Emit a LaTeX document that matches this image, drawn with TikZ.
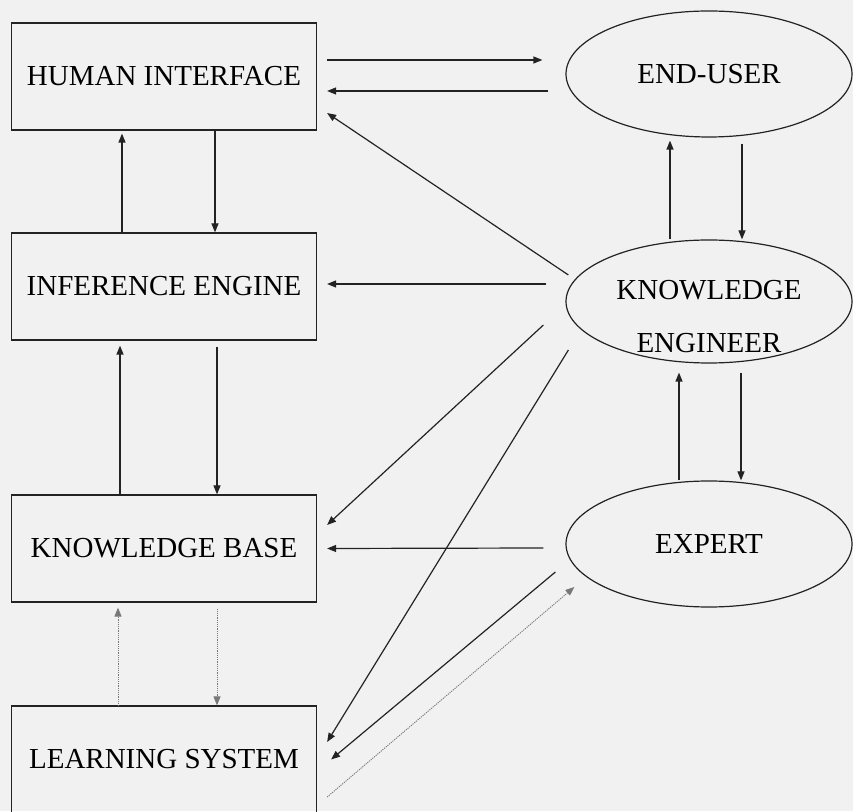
\documentclass[tikz,border=0pt]{standalone}
\usepackage{fontspec}
\setmainfont{Liberation Serif}
\usepackage{tikz}
\usetikzlibrary{arrows.meta,shapes.geometric}
\definecolor{ink}{RGB}{35,35,35}
\definecolor{paper}{RGB}{241,241,241}
\definecolor{dotgrey}{RGB}{120,120,120}
\tikzset{
  unit/.style={draw=ink,line width=1.2pt,rectangle,minimum width=305pt,
               minimum height=107pt,inner sep=0pt,font=\fontsize{29}{35}\selectfont},
  actor/.style={draw=ink,line width=1.2pt,ellipse,minimum width=286pt,
                minimum height=126pt,inner sep=0pt,font=\fontsize{29}{35}\selectfont},
  actortxt/.style={align=center,inner sep=0pt,font=\fontsize{29}{53}\selectfont},
  flow/.style={-{Triangle[length=9pt,width=7pt]},line width=1.2pt,draw=ink},
  flowd/.style={flow,densely dotted,draw=dotgrey,line width=0.9pt},
}

\begin{document}
\begin{tikzpicture}[x=1pt,y=1pt]
  \fill[paper] (0,0) rectangle (853,811);
  \useasboundingbox (0,0) rectangle (853,811);
  \clip (0,0) rectangle (853,811);

  % left column
  \node[unit] (hi) at (164,734.5) {HUMAN INTERFACE};
  \node[unit] (ie) at (164,524.5) {INFERENCE ENGINE};
  \node[unit] (kb) at (164,262.5) {KNOWLEDGE BASE};
  \node[unit] (ls) at (164,51.5)  {LEARNING SYSTEM};

  % right column
  \node[actor] (eu) at (709,737) {END-USER};
  \node[actor,minimum height=123pt] (ke) at (709,509.5) {};
  \node[actortxt] (ketxt) at ([yshift=-15]ke.center) {KNOWLEDGE\\ENGINEER};
  \node[actor] (ex) at (709,267) {EXPERT};

  % interface <-> end-user
  \draw[flow] ([shift={(10,16.5)}]hi.east) -- ([shift={(-23,14)}]eu.west);
  \draw[flow] ([shift={(-17,-17)}]eu.west) -- ([shift={(10,-14.5)}]hi.east);

  % left column links
  \draw[flow] ([xshift=-42]ie.north) -- ([xshift=-42,yshift=-3]hi.south);
  \draw[flow] ([xshift=51]hi.south) -- ([xshift=51]ie.north);
  \draw[flow] ([xshift=-44]kb.north) -- ([xshift=-44,yshift=-5]ie.south);
  \draw[flow] ([xshift=53,yshift=-6]ie.south) -- ([xshift=53]kb.north);
  \draw[flowd] ([xshift=-46,yshift=-1]ls.north) -- ([xshift=-46,yshift=-5]kb.south);
  \draw[flowd] ([xshift=53,yshift=-6]kb.south) -- ([xshift=53]ls.north);

  % right column links
  \draw[flow] ([xshift=-39]ke.north) -- ([xshift=-39,yshift=-3]eu.south);
  \draw[flow] ([xshift=33,yshift=-6]eu.south) -- ([xshift=33]ke.north);
  \draw[flow] ([xshift=-30]ex.north) -- ([xshift=-30,yshift=-9]ke.south);
  \draw[flow] ([xshift=32,yshift=-9]ke.south) -- ([xshift=32]ex.north);

  % knowledge engineer fan-out
  \draw[flow] ([shift={(3,26.5)}]ke.west) -- ([shift={(10,-36.5)}]hi.east);
  \draw[flow] ([shift={(-19,17.5)}]ke.west) -- ([shift={(10,2.5)}]ie.east);
  \draw[flow] ([shift={(-22,-23.5)}]ke.west) -- ([shift={(10,23.5)}]kb.east);
  \draw[flow] ([shift={(3,-48.5)}]ke.west) -- ([shift={(10,17.5)}]ls.east);

  % expert links
  \draw[flow] ([shift={(-22,-4)}]ex.west) -- ([shift={(10,0)}]kb.east);
  \draw[flow] ([shift={(-10,-28)}]ex.west) -- ([shift={(14,0)}]ls.east);
  \draw[flowd] ([shift={(10,-37.5)}]ls.east) -- ([shift={(9,-43)}]ex.west);
\end{tikzpicture}
\end{document}
